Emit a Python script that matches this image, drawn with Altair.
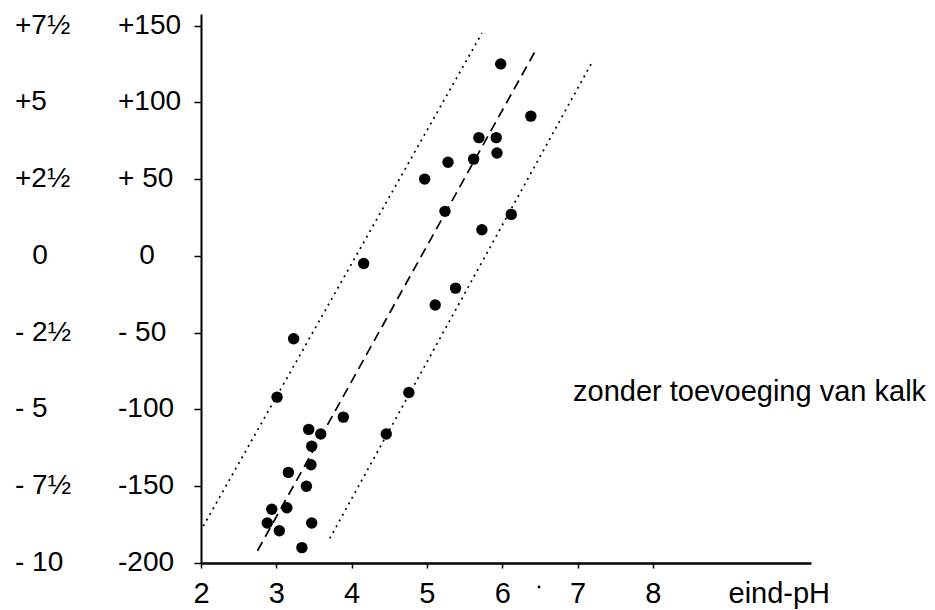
import altair as alt
import pandas as pd

# ---- data ----
ph = [5.98, 6.38, 5.69, 5.92, 5.93, 5.62, 5.28, 4.97, 5.24, 6.12, 5.73, 4.16, 5.38, 5.11,
      3.23, 3.01, 4.76, 3.89, 3.43, 3.59, 4.46, 3.47, 3.46, 3.16, 3.40, 2.94, 3.14, 2.88,
      3.47, 3.04, 3.34]
val = [125, 91, 77, 77, 67, 63, 61, 50, 29, 27, 17, -5, -21, -32,
       -54, -92, -89, -105, -113, -116, -116, -124, -136, -141, -150, -165, -164, -174,
       -174, -179, -190]

# regression line (dashed) and confidence lines (dotted): endpoints
dash_x = [2.75, 6.44]
dash_y = [-192, 133.5]
lo_x = [2.03, 5.73]
lo_y = [-176, 145]
hi_x = [3.71, 7.18]
hi_y = [-184, 125]

x_ticks = [2, 3, 4, 5, 6, 7, 8]
y_ticks = [150, 100, 50, 0, -50, -100, -150, -200]
y_labels_a = ["+7½", "+5", "+2½", "0", "- 2½", "- 5", "- 7½", "- 10"]
y_labels_b = ["+150", "+100", "+ 50", "0", "- 50", "-100", "-150", "-200"]
annotation = ["zonder toevoeging van kalk"]
x_title = "eind-pH"

FONT = "Liberation Sans"
FS = 28

xs = alt.Scale(domain=[2, 10.1], nice=False, zero=False)
ys = alt.Scale(domain=[-200, 157.5], nice=False, zero=False)

pts = pd.DataFrame({"x": ph, "y": val})
lines_df = pd.DataFrame({
    "x": dash_x + lo_x + hi_x,
    "y": dash_y + lo_y + hi_y,
    "line": ["fit", "fit", "lo", "lo", "hi", "hi"],
})
lab = pd.DataFrame({"v": y_ticks, "a": y_labels_a, "b": y_labels_b})
lab_nz = lab[lab["v"] != 0]
lab_z = lab[lab["v"] == 0]

X = alt.X("x:Q", scale=xs, title=x_title,
          axis=alt.Axis(values=x_ticks, grid=False, domainColor="black", domainWidth=2.5,
                        tickColor="black", tickWidth=1.5, tickSize=5,
                        labelFont=FONT, labelFontSize=29, labelColor="black", labelPadding=11,
                        labelFlush=False,
                        titleFont=FONT, titleFontSize=29, titleFontWeight="normal",
                        titleColor="black", titleX=527, titleY=39, titleAlign="left",
                        titleBaseline="alphabetic", titleAngle=0))
Y = alt.Y("y:Q", scale=ys, title=None,
          axis=alt.Axis(values=y_ticks, grid=False, labels=False, domainColor="black",
                        domainWidth=2, tickColor="black", tickWidth=1.5, tickSize=7))

points = alt.Chart(pts).mark_circle(size=130, color="black", opacity=1).encode(x=X, y=Y)

fit = alt.Chart(lines_df[lines_df["line"] == "fit"]).mark_line(
    color="black", strokeWidth=1.7, strokeDash=[10, 6]).encode(x=X, y=Y)
lo = alt.Chart(lines_df[lines_df["line"] == "lo"]).mark_line(
    color="black", strokeWidth=1.7, strokeDash=[2, 4.5]).encode(x=X, y=Y)
hi = alt.Chart(lines_df[lines_df["line"] == "hi"]).mark_line(
    color="black", strokeWidth=1.7, strokeDash=[2, 4.5]).encode(x=X, y=Y)

yv = alt.Y("v:Q", scale=ys)
col_a = alt.Chart(lab_nz).mark_text(align="left", baseline="middle", font=FONT,
                                    fontSize=FS, color="black").encode(
    x=alt.value(-186), y=yv, text="a:N")
col_a0 = alt.Chart(lab_z).mark_text(align="center", baseline="middle", font=FONT,
                                    fontSize=FS, color="black").encode(
    x=alt.value(-161), y=yv, text="a:N")
col_b = alt.Chart(lab_nz).mark_text(align="left", baseline="middle", font=FONT,
                                    fontSize=FS, color="black").encode(
    x=alt.value(-83), y=yv, text="b:N")
col_b0 = alt.Chart(lab_z).mark_text(align="center", baseline="middle", font=FONT,
                                    fontSize=FS, color="black").encode(
    x=alt.value(-54), y=yv, text="b:N")

note = alt.Chart(pd.DataFrame({"t": annotation})).mark_text(
    align="left", baseline="alphabetic", font=FONT, fontSize=29, color="black").encode(
    x=alt.value(372), y=alt.value(387), text="t:N")

speck = alt.Chart(pd.DataFrame({"t": ["."]})).mark_circle(size=8, color="black", opacity=1).encode(
    x=alt.value(338), y=alt.value(573))

chart = alt.layer(fit, lo, hi, points, col_a, col_a0, col_b, col_b0, note, speck).properties(
    width=610, height=549,
    autosize=alt.AutoSizeParams(type="none"),
    padding={"left": 201, "top": 14, "right": 124, "bottom": 47},
    background="white",
).configure_view(strokeWidth=0)

chart.save("out.html", embed_options={"renderer": "svg", "actions": False})
